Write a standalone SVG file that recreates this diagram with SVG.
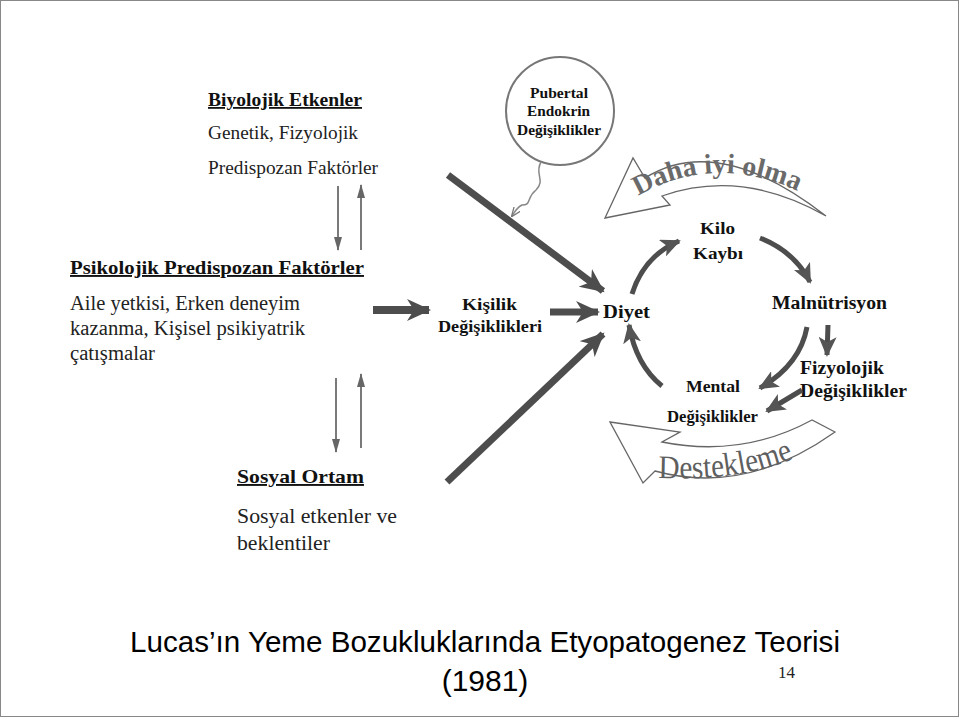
<svg xmlns="http://www.w3.org/2000/svg" width="960" height="719" viewBox="0 0 960 719">
<style>
.h{font-family:"Liberation Serif","DejaVu Serif",serif;font-weight:bold;fill:#111;text-decoration:underline}
.t{font-family:"Liberation Serif","DejaVu Serif",serif;fill:#222}
.b{font-family:"Liberation Serif","DejaVu Serif",serif;font-weight:bold;fill:#111}
.thin{stroke:#7a7a7a;stroke-width:2;fill:none}
.thick{stroke:#4d4d4d;fill:none;stroke-linecap:butt}
.hollow{fill:#fff;stroke:#666;stroke-width:1.3}
.curv{font-family:"Liberation Serif","DejaVu Serif",serif;font-weight:bold;fill:#6a6a6a}
.curvn{font-family:"Liberation Serif","DejaVu Serif",serif;font-weight:normal;fill:#5f5f5f}
.title{font-family:"Liberation Sans",Arial,sans-serif;fill:#000}
</style>
<defs>
<marker id="big" markerUnits="userSpaceOnUse" markerWidth="26" markerHeight="22" refX="22" refY="11" orient="auto" viewBox="0 0 26 22">
<path d="M0,0 L24,11 L0,22 L7,11 Z" fill="#4d4d4d"/>
</marker>
<marker id="mid" markerUnits="userSpaceOnUse" markerWidth="20" markerHeight="18" refX="18" refY="9" orient="auto" viewBox="0 0 20 18">
<path d="M0,0 L20,9 L0,18 L5,9 Z" fill="#555"/>
</marker>
<marker id="sm" markerUnits="userSpaceOnUse" markerWidth="14" markerHeight="8" refX="13" refY="4" orient="auto" viewBox="0 0 14 8">
<path d="M0,0 L14,4 L0,8 Z" fill="#666"/>
</marker>
<marker id="tiny" markerUnits="userSpaceOnUse" markerWidth="10" markerHeight="8" refX="9" refY="4" orient="auto" viewBox="0 0 10 8">
<path d="M0,0 L10,4 L0,8" fill="none" stroke="#777" stroke-width="1.3"/>
</marker>
<path id="arcTop" d="M638,196 Q718,150 808,196"/>
<path id="arcBot" d="M658,478 Q745,482 802,455"/>
</defs>
<rect x="0.5" y="0.5" width="958" height="716" fill="#fff" stroke="#888" stroke-width="1"/>

<g id="biyolojik">
<text class="h" x="208" y="106" font-size="18" textLength="154" lengthAdjust="spacingAndGlyphs">Biyolojik Etkenler</text>
<text class="t" x="208" y="139" font-size="19" textLength="150" lengthAdjust="spacingAndGlyphs">Genetik, Fizyolojik</text>
<text class="t" x="208" y="174" font-size="19" textLength="170" lengthAdjust="spacingAndGlyphs">Predispozan Faktörler</text>
</g>
<g id="psikolojik">
<text class="h" x="70" y="274" font-size="19" textLength="294" lengthAdjust="spacingAndGlyphs">Psikolojik Predispozan Faktörler</text>
<text class="t" x="70" y="310" font-size="20.5" textLength="230" lengthAdjust="spacingAndGlyphs">Aile yetkisi, Erken deneyim</text>
<text class="t" x="70" y="335" font-size="20.5" textLength="235" lengthAdjust="spacingAndGlyphs">kazanma, Kişisel psikiyatrik</text>
<text class="t" x="70" y="360" font-size="20.5" textLength="85" lengthAdjust="spacingAndGlyphs">çatışmalar</text>
</g>
<g id="sosyal">
<text class="h" x="237" y="483" font-size="19" textLength="127" lengthAdjust="spacingAndGlyphs">Sosyal Ortam</text>
<text class="t" x="237" y="523" font-size="20.5" textLength="160" lengthAdjust="spacingAndGlyphs">Sosyal etkenler ve</text>
<text class="t" x="237" y="550" font-size="20.5" textLength="93" lengthAdjust="spacingAndGlyphs">beklentiler</text>
</g>
<g id="pubertal">
<circle cx="560" cy="111" r="54" fill="#fff" stroke="#777" stroke-width="2"/>
<text class="b" x="530" y="98" font-size="14.5" textLength="58" lengthAdjust="spacingAndGlyphs">Pubertal</text>
<text class="b" x="527" y="116" font-size="14.5" textLength="63" lengthAdjust="spacingAndGlyphs">Endokrin</text>
<text class="b" x="517" y="135" font-size="14.5" textLength="84" lengthAdjust="spacingAndGlyphs">Değişiklikler</text>
</g>
<g id="kisilik">
<text class="b" x="462" y="310" font-size="17" textLength="55" lengthAdjust="spacingAndGlyphs">Kişilik</text>
<text class="b" x="438" y="332" font-size="17" textLength="104" lengthAdjust="spacingAndGlyphs">Değişiklikleri</text>
</g>
<g id="diyet"><text class="b" x="603" y="318" font-size="19" textLength="47" lengthAdjust="spacingAndGlyphs">Diyet</text></g>
<g id="kilo">
<text class="b" x="700" y="234" font-size="17" textLength="35" lengthAdjust="spacingAndGlyphs">Kilo</text>
<text class="b" x="693" y="259" font-size="17" textLength="50" lengthAdjust="spacingAndGlyphs">Kaybı</text>
</g>
<g id="malnutrisyon"><text class="b" x="772" y="309" font-size="18" textLength="115" lengthAdjust="spacingAndGlyphs">Malnütrisyon</text></g>
<g id="fizyolojik">
<text class="b" x="800" y="374" font-size="18" textLength="84" lengthAdjust="spacingAndGlyphs">Fizyolojik</text>
<text class="b" x="800" y="397" font-size="18" textLength="107" lengthAdjust="spacingAndGlyphs">Değişiklikler</text>
</g>
<g id="mental">
<text class="b" x="686" y="392" font-size="16.5" textLength="54" lengthAdjust="spacingAndGlyphs">Mental</text>
<text class="b" x="667" y="422" font-size="16.5" textLength="91" lengthAdjust="spacingAndGlyphs">Değişiklikler</text>
</g>

<g id="feedback">
<path class="hollow" d="M605,218 L633,158 L645,178 Q718,132 826,216 Q742,168 662,196 L670,205 Z"/>
<text class="curv" font-size="28"><textPath href="#arcTop">Daha iyi olma</textPath></text>
<path class="hollow" d="M610,422 L680,432 L662,442 Q742,458 812,420 L835,432 Q745,496 655,471 L643,483 Z"/>
<text class="curvn" font-size="33"><textPath href="#arcBot" textLength="138" lengthAdjust="spacingAndGlyphs">Destekleme</textPath></text>
</g>

<g id="connectors">
<line class="thin" x1="338" y1="186" x2="338" y2="250" marker-end="url(#sm)"/>
<line class="thin" x1="361" y1="250" x2="361" y2="185" marker-end="url(#sm)"/>
<line class="thin" x1="336" y1="378" x2="336" y2="452" marker-end="url(#sm)"/>
<line class="thin" x1="361" y1="448" x2="361" y2="374" marker-end="url(#sm)"/>
<line class="thick" stroke-width="8" x1="373" y1="310" x2="429" y2="310" marker-end="url(#big)"/>
<line class="thick" stroke-width="7" x1="448" y1="175" x2="603" y2="291" marker-end="url(#big)"/>
<line class="thick" stroke-width="7" x1="447" y1="482" x2="603" y2="334" marker-end="url(#big)"/>
<line class="thick" stroke-width="7" x1="550" y1="312" x2="598" y2="312" marker-end="url(#big)"/>
<path d="M541,162 C534,174 546,180 536,190 C526,198 532,205 522,205 C516,208 515,212 512,216" stroke="#888" stroke-width="1.5" fill="none" marker-end="url(#tiny)"/>
<path class="thick" stroke-width="5" d="M632,294 Q644,256 679,241" marker-end="url(#mid)"/>
<path class="thick" stroke-width="5" d="M760,238 Q795,252 810,282" marker-end="url(#mid)"/>
<path class="thick" stroke-width="5" d="M807,327 Q800,365 760,388" marker-end="url(#mid)"/>
<path class="thick" stroke-width="5" d="M828,325 L827,355" marker-end="url(#mid)"/>
<path class="thick" stroke-width="5" d="M802,390 L767,411" marker-end="url(#mid)"/>
<path class="thick" stroke-width="5" d="M662,386 Q636,365 629,325" marker-end="url(#mid)"/>
</g>

<g id="title">
<text class="title" x="130" y="652" font-size="30" textLength="710" lengthAdjust="spacingAndGlyphs">Lucas’ın Yeme Bozukluklarında  Etyopatogenez Teorisi</text>
<text class="title" x="485" y="691" font-size="30" text-anchor="middle">(1981)</text>
<text class="t" x="778" y="678" font-size="17" fill="#000">14</text>
</g>
</svg>
